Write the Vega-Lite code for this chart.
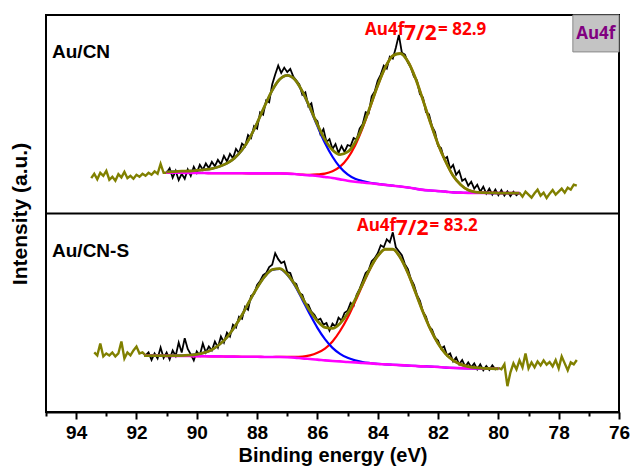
{
"$schema":"https://vega.github.io/schema/vega-lite/v6.json",
"width":573,"height":397,
"autosize":{"type":"none"},
"padding":{"left":46,"top":15,"right":14,"bottom":58},
"config":{"view":{"stroke":"black","strokeWidth":2},"font":"Liberation Sans"},
"datasets":{
"raw":[
{"p":"t","g":"L","e":93.5,"i":1.178},{"p":"t","g":"L","e":93.4,"i":1.2},{"p":"t","g":"L","e":93.3,"i":1.172},{"p":"t","g":"L","e":93.2,"i":1.205},{"p":"t","g":"L","e":93.1,"i":1.19},{"p":"t","g":"L","e":93.0,"i":1.215},{"p":"t","g":"L","e":92.9,"i":1.17},{"p":"t","g":"L","e":92.8,"i":1.185},{"p":"t","g":"L","e":92.7,"i":1.165},{"p":"t","g":"L","e":92.6,"i":1.198},{"p":"t","g":"L","e":92.5,"i":1.182},{"p":"t","g":"L","e":92.4,"i":1.21},{"p":"t","g":"L","e":92.3,"i":1.178},{"p":"t","g":"L","e":92.2,"i":1.19},{"p":"t","g":"L","e":92.1,"i":1.175},{"p":"t","g":"L","e":92.0,"i":1.195},{"p":"t","g":"L","e":91.9,"i":1.185},{"p":"t","g":"L","e":91.8,"i":1.2},{"p":"t","g":"L","e":91.7,"i":1.19},{"p":"t","g":"L","e":91.6,"i":1.205},{"p":"t","g":"L","e":91.5,"i":1.195},{"p":"t","g":"L","e":91.4,"i":1.212},{"p":"t","g":"L","e":91.3,"i":1.2},{"p":"t","g":"L","e":91.2,"i":1.25},{"p":"t","g":"L","e":91.1,"i":1.205},{"p":"t","g":"L","e":91.0,"i":1.205},
{"p":"t","g":"M","e":91.0,"i":1.205},{"p":"t","g":"M","e":90.9,"i":1.228},{"p":"t","g":"M","e":90.8,"i":1.18},{"p":"t","g":"M","e":90.7,"i":1.215},{"p":"t","g":"M","e":90.6,"i":1.168},{"p":"t","g":"M","e":90.5,"i":1.2},{"p":"t","g":"M","e":90.4,"i":1.175},{"p":"t","g":"M","e":90.3,"i":1.222},{"p":"t","g":"M","e":90.2,"i":1.19},{"p":"t","g":"M","e":90.1,"i":1.235},{"p":"t","g":"M","e":90.0,"i":1.205},{"p":"t","g":"M","e":89.9,"i":1.245},{"p":"t","g":"M","e":89.8,"i":1.22},{"p":"t","g":"M","e":89.7,"i":1.252},{"p":"t","g":"M","e":89.6,"i":1.228},{"p":"t","g":"M","e":89.5,"i":1.26},{"p":"t","g":"M","e":89.4,"i":1.238},{"p":"t","g":"M","e":89.3,"i":1.27},{"p":"t","g":"M","e":89.2,"i":1.248},{"p":"t","g":"M","e":89.1,"i":1.29},{"p":"t","g":"M","e":89.0,"i":1.262},{"p":"t","g":"M","e":88.9,"i":1.3},{"p":"t","g":"M","e":88.8,"i":1.278},{"p":"t","g":"M","e":88.7,"i":1.325},{"p":"t","g":"M","e":88.6,"i":1.305},{"p":"t","g":"M","e":88.5,"i":1.352},{"p":"t","g":"M","e":88.4,"i":1.338},{"p":"t","g":"M","e":88.3,"i":1.395},{"p":"t","g":"M","e":88.2,"i":1.38},{"p":"t","g":"M","e":88.1,"i":1.44},{"p":"t","g":"M","e":88.0,"i":1.428},{"p":"t","g":"M","e":87.9,"i":1.51},{"p":"t","g":"M","e":87.8,"i":1.498},{"p":"t","g":"M","e":87.7,"i":1.57},{"p":"t","g":"M","e":87.6,"i":1.56},{"p":"t","g":"M","e":87.5,"i":1.65},{"p":"t","g":"M","e":87.4,"i":1.7},{"p":"t","g":"M","e":87.3,"i":1.745},{"p":"t","g":"M","e":87.2,"i":1.708},{"p":"t","g":"M","e":87.1,"i":1.735},{"p":"t","g":"M","e":87.0,"i":1.712},{"p":"t","g":"M","e":86.9,"i":1.728},{"p":"t","g":"M","e":86.8,"i":1.69},{"p":"t","g":"M","e":86.7,"i":1.67},{"p":"t","g":"M","e":86.6,"i":1.65},{"p":"t","g":"M","e":86.5,"i":1.598},{"p":"t","g":"M","e":86.4,"i":1.61},{"p":"t","g":"M","e":86.3,"i":1.54},{"p":"t","g":"M","e":86.2,"i":1.555},{"p":"t","g":"M","e":86.1,"i":1.48},{"p":"t","g":"M","e":86.0,"i":1.465},{"p":"t","g":"M","e":85.9,"i":1.4},{"p":"t","g":"M","e":85.8,"i":1.425},{"p":"t","g":"M","e":85.7,"i":1.36},{"p":"t","g":"M","e":85.6,"i":1.375},{"p":"t","g":"M","e":85.5,"i":1.325},{"p":"t","g":"M","e":85.4,"i":1.35},{"p":"t","g":"M","e":85.3,"i":1.305},{"p":"t","g":"M","e":85.2,"i":1.34},{"p":"t","g":"M","e":85.1,"i":1.31},{"p":"t","g":"M","e":85.0,"i":1.345},{"p":"t","g":"M","e":84.9,"i":1.34},{"p":"t","g":"M","e":84.8,"i":1.38},{"p":"t","g":"M","e":84.7,"i":1.372},{"p":"t","g":"M","e":84.6,"i":1.428},{"p":"t","g":"M","e":84.5,"i":1.45},{"p":"t","g":"M","e":84.4,"i":1.51},{"p":"t","g":"M","e":84.3,"i":1.505},{"p":"t","g":"M","e":84.2,"i":1.59},{"p":"t","g":"M","e":84.1,"i":1.615},{"p":"t","g":"M","e":84.0,"i":1.67},{"p":"t","g":"M","e":83.9,"i":1.7},{"p":"t","g":"M","e":83.8,"i":1.745},{"p":"t","g":"M","e":83.7,"i":1.73},{"p":"t","g":"M","e":83.6,"i":1.79},{"p":"t","g":"M","e":83.5,"i":1.78},{"p":"t","g":"M","e":83.4,"i":1.835},{"p":"t","g":"M","e":83.3,"i":1.9},{"p":"t","g":"M","e":83.2,"i":1.81},{"p":"t","g":"M","e":83.1,"i":1.8},{"p":"t","g":"M","e":83.0,"i":1.76},{"p":"t","g":"M","e":82.9,"i":1.735},{"p":"t","g":"M","e":82.8,"i":1.69},{"p":"t","g":"M","e":82.7,"i":1.67},{"p":"t","g":"M","e":82.6,"i":1.6},{"p":"t","g":"M","e":82.5,"i":1.585},{"p":"t","g":"M","e":82.4,"i":1.51},{"p":"t","g":"M","e":82.3,"i":1.5},{"p":"t","g":"M","e":82.2,"i":1.44},{"p":"t","g":"M","e":82.1,"i":1.41},{"p":"t","g":"M","e":82.0,"i":1.34},{"p":"t","g":"M","e":81.9,"i":1.33},{"p":"t","g":"M","e":81.8,"i":1.275},{"p":"t","g":"M","e":81.7,"i":1.285},{"p":"t","g":"M","e":81.6,"i":1.225},{"p":"t","g":"M","e":81.5,"i":1.245},{"p":"t","g":"M","e":81.4,"i":1.195},{"p":"t","g":"M","e":81.3,"i":1.215},{"p":"t","g":"M","e":81.2,"i":1.165},{"p":"t","g":"M","e":81.1,"i":1.175},{"p":"t","g":"M","e":81.0,"i":1.14},{"p":"t","g":"M","e":80.9,"i":1.16},{"p":"t","g":"M","e":80.8,"i":1.125},{"p":"t","g":"M","e":80.7,"i":1.145},{"p":"t","g":"M","e":80.6,"i":1.11},{"p":"t","g":"M","e":80.5,"i":1.135},{"p":"t","g":"M","e":80.4,"i":1.1},{"p":"t","g":"M","e":80.3,"i":1.125},{"p":"t","g":"M","e":80.2,"i":1.095},{"p":"t","g":"M","e":80.1,"i":1.12},{"p":"t","g":"M","e":80.0,"i":1.092},{"p":"t","g":"M","e":79.9,"i":1.118},{"p":"t","g":"M","e":79.8,"i":1.09},{"p":"t","g":"M","e":79.7,"i":1.112},{"p":"t","g":"M","e":79.6,"i":1.088},{"p":"t","g":"M","e":79.5,"i":1.11},{"p":"t","g":"M","e":79.4,"i":1.092},{"p":"t","g":"M","e":79.3,"i":1.105},
{"p":"t","g":"R","e":79.3,"i":1.105},{"p":"t","g":"R","e":79.2,"i":1.085},{"p":"t","g":"R","e":79.1,"i":1.11},{"p":"t","g":"R","e":79.0,"i":1.095},{"p":"t","g":"R","e":78.9,"i":1.08},{"p":"t","g":"R","e":78.8,"i":1.102},{"p":"t","g":"R","e":78.7,"i":1.12},{"p":"t","g":"R","e":78.6,"i":1.09},{"p":"t","g":"R","e":78.5,"i":1.105},{"p":"t","g":"R","e":78.4,"i":1.078},{"p":"t","g":"R","e":78.3,"i":1.1},{"p":"t","g":"R","e":78.2,"i":1.118},{"p":"t","g":"R","e":78.1,"i":1.095},{"p":"t","g":"R","e":78.0,"i":1.11},{"p":"t","g":"R","e":77.9,"i":1.125},{"p":"t","g":"R","e":77.8,"i":1.105},{"p":"t","g":"R","e":77.7,"i":1.13},{"p":"t","g":"R","e":77.6,"i":1.12},{"p":"t","g":"R","e":77.5,"i":1.145},{"p":"t","g":"R","e":77.4,"i":1.14},
{"p":"b","g":"L","e":93.4,"i":0.3},{"p":"b","g":"L","e":93.3,"i":0.285},{"p":"b","g":"L","e":93.2,"i":0.345},{"p":"b","g":"L","e":93.1,"i":0.28},{"p":"b","g":"L","e":93.0,"i":0.295},{"p":"b","g":"L","e":92.9,"i":0.285},{"p":"b","g":"L","e":92.8,"i":0.3},{"p":"b","g":"L","e":92.7,"i":0.28},{"p":"b","g":"L","e":92.6,"i":0.295},{"p":"b","g":"L","e":92.5,"i":0.355},{"p":"b","g":"L","e":92.4,"i":0.27},{"p":"b","g":"L","e":92.3,"i":0.3},{"p":"b","g":"L","e":92.2,"i":0.285},{"p":"b","g":"L","e":92.1,"i":0.31},{"p":"b","g":"L","e":92.0,"i":0.33},{"p":"b","g":"L","e":91.9,"i":0.295},{"p":"b","g":"L","e":91.8,"i":0.3},{"p":"b","g":"L","e":91.7,"i":0.285},
{"p":"b","g":"M","e":91.7,"i":0.285},{"p":"b","g":"M","e":91.6,"i":0.3},{"p":"b","g":"M","e":91.5,"i":0.262},{"p":"b","g":"M","e":91.4,"i":0.295},{"p":"b","g":"M","e":91.3,"i":0.27},{"p":"b","g":"M","e":91.2,"i":0.325},{"p":"b","g":"M","e":91.1,"i":0.272},{"p":"b","g":"M","e":91.0,"i":0.3},{"p":"b","g":"M","e":90.9,"i":0.265},{"p":"b","g":"M","e":90.8,"i":0.31},{"p":"b","g":"M","e":90.7,"i":0.282},{"p":"b","g":"M","e":90.6,"i":0.35},{"p":"b","g":"M","e":90.5,"i":0.3},{"p":"b","g":"M","e":90.4,"i":0.372},{"p":"b","g":"M","e":90.3,"i":0.318},{"p":"b","g":"M","e":90.2,"i":0.29},{"p":"b","g":"M","e":90.1,"i":0.26},{"p":"b","g":"M","e":90.0,"i":0.305},{"p":"b","g":"M","e":89.9,"i":0.285},{"p":"b","g":"M","e":89.8,"i":0.345},{"p":"b","g":"M","e":89.7,"i":0.3},{"p":"b","g":"M","e":89.6,"i":0.33},{"p":"b","g":"M","e":89.5,"i":0.31},{"p":"b","g":"M","e":89.4,"i":0.355},{"p":"b","g":"M","e":89.3,"i":0.325},{"p":"b","g":"M","e":89.2,"i":0.38},{"p":"b","g":"M","e":89.1,"i":0.35},{"p":"b","g":"M","e":89.0,"i":0.4},{"p":"b","g":"M","e":88.9,"i":0.38},{"p":"b","g":"M","e":88.8,"i":0.44},{"p":"b","g":"M","e":88.7,"i":0.425},{"p":"b","g":"M","e":88.6,"i":0.48},{"p":"b","g":"M","e":88.5,"i":0.47},{"p":"b","g":"M","e":88.4,"i":0.53},{"p":"b","g":"M","e":88.3,"i":0.515},{"p":"b","g":"M","e":88.2,"i":0.585},{"p":"b","g":"M","e":88.1,"i":0.595},{"p":"b","g":"M","e":88.0,"i":0.64},{"p":"b","g":"M","e":87.9,"i":0.66},{"p":"b","g":"M","e":87.8,"i":0.69},{"p":"b","g":"M","e":87.7,"i":0.7},{"p":"b","g":"M","e":87.6,"i":0.73},{"p":"b","g":"M","e":87.5,"i":0.742},{"p":"b","g":"M","e":87.4,"i":0.8},{"p":"b","g":"M","e":87.3,"i":0.77},{"p":"b","g":"M","e":87.2,"i":0.75},{"p":"b","g":"M","e":87.1,"i":0.758},{"p":"b","g":"M","e":87.0,"i":0.705},{"p":"b","g":"M","e":86.9,"i":0.7},{"p":"b","g":"M","e":86.8,"i":0.655},{"p":"b","g":"M","e":86.7,"i":0.645},{"p":"b","g":"M","e":86.6,"i":0.6},{"p":"b","g":"M","e":86.5,"i":0.59},{"p":"b","g":"M","e":86.4,"i":0.545},{"p":"b","g":"M","e":86.3,"i":0.54},{"p":"b","g":"M","e":86.2,"i":0.505},{"p":"b","g":"M","e":86.1,"i":0.49},{"p":"b","g":"M","e":86.0,"i":0.462},{"p":"b","g":"M","e":85.9,"i":0.47},{"p":"b","g":"M","e":85.8,"i":0.44},{"p":"b","g":"M","e":85.7,"i":0.448},{"p":"b","g":"M","e":85.6,"i":0.41},{"p":"b","g":"M","e":85.5,"i":0.445},{"p":"b","g":"M","e":85.4,"i":0.43},{"p":"b","g":"M","e":85.3,"i":0.475},{"p":"b","g":"M","e":85.2,"i":0.46},{"p":"b","g":"M","e":85.1,"i":0.5},{"p":"b","g":"M","e":85.0,"i":0.51},{"p":"b","g":"M","e":84.9,"i":0.55},{"p":"b","g":"M","e":84.8,"i":0.535},{"p":"b","g":"M","e":84.7,"i":0.59},{"p":"b","g":"M","e":84.6,"i":0.62},{"p":"b","g":"M","e":84.5,"i":0.66},{"p":"b","g":"M","e":84.4,"i":0.7},{"p":"b","g":"M","e":84.3,"i":0.715},{"p":"b","g":"M","e":84.2,"i":0.76},{"p":"b","g":"M","e":84.1,"i":0.775},{"p":"b","g":"M","e":84.0,"i":0.8},{"p":"b","g":"M","e":83.9,"i":0.84},{"p":"b","g":"M","e":83.8,"i":0.83},{"p":"b","g":"M","e":83.7,"i":0.87},{"p":"b","g":"M","e":83.6,"i":0.855},{"p":"b","g":"M","e":83.5,"i":0.905},{"p":"b","g":"M","e":83.4,"i":0.83},{"p":"b","g":"M","e":83.3,"i":0.81},{"p":"b","g":"M","e":83.2,"i":0.79},{"p":"b","g":"M","e":83.1,"i":0.745},{"p":"b","g":"M","e":83.0,"i":0.72},{"p":"b","g":"M","e":82.9,"i":0.67},{"p":"b","g":"M","e":82.8,"i":0.64},{"p":"b","g":"M","e":82.7,"i":0.59},{"p":"b","g":"M","e":82.6,"i":0.56},{"p":"b","g":"M","e":82.5,"i":0.505},{"p":"b","g":"M","e":82.4,"i":0.48},{"p":"b","g":"M","e":82.3,"i":0.43},{"p":"b","g":"M","e":82.2,"i":0.415},{"p":"b","g":"M","e":82.1,"i":0.375},{"p":"b","g":"M","e":82.0,"i":0.36},{"p":"b","g":"M","e":81.9,"i":0.32},{"p":"b","g":"M","e":81.8,"i":0.33},{"p":"b","g":"M","e":81.7,"i":0.285},{"p":"b","g":"M","e":81.6,"i":0.295},{"p":"b","g":"M","e":81.5,"i":0.255},{"p":"b","g":"M","e":81.4,"i":0.275},{"p":"b","g":"M","e":81.3,"i":0.24},{"p":"b","g":"M","e":81.2,"i":0.262},{"p":"b","g":"M","e":81.1,"i":0.228},{"p":"b","g":"M","e":81.0,"i":0.25},{"p":"b","g":"M","e":80.9,"i":0.225},{"p":"b","g":"M","e":80.8,"i":0.245},{"p":"b","g":"M","e":80.7,"i":0.215},{"p":"b","g":"M","e":80.6,"i":0.24},{"p":"b","g":"M","e":80.5,"i":0.21},{"p":"b","g":"M","e":80.4,"i":0.232},{"p":"b","g":"M","e":80.3,"i":0.212},{"p":"b","g":"M","e":80.2,"i":0.235},{"p":"b","g":"M","e":80.1,"i":0.215},{"p":"b","g":"M","e":80.0,"i":0.222},
{"p":"b","g":"R","e":80.0,"i":0.222},{"p":"b","g":"R","e":79.9,"i":0.215},{"p":"b","g":"R","e":79.8,"i":0.24},{"p":"b","g":"R","e":79.7,"i":0.13},{"p":"b","g":"R","e":79.6,"i":0.2},{"p":"b","g":"R","e":79.5,"i":0.245},{"p":"b","g":"R","e":79.4,"i":0.215},{"p":"b","g":"R","e":79.3,"i":0.26},{"p":"b","g":"R","e":79.2,"i":0.225},{"p":"b","g":"R","e":79.1,"i":0.295},{"p":"b","g":"R","e":79.0,"i":0.22},{"p":"b","g":"R","e":78.9,"i":0.25},{"p":"b","g":"R","e":78.8,"i":0.225},{"p":"b","g":"R","e":78.7,"i":0.255},{"p":"b","g":"R","e":78.6,"i":0.235},{"p":"b","g":"R","e":78.5,"i":0.26},{"p":"b","g":"R","e":78.4,"i":0.238},{"p":"b","g":"R","e":78.3,"i":0.252},{"p":"b","g":"R","e":78.2,"i":0.23},{"p":"b","g":"R","e":78.1,"i":0.262},{"p":"b","g":"R","e":78.0,"i":0.22},{"p":"b","g":"R","e":77.9,"i":0.28},{"p":"b","g":"R","e":77.8,"i":0.245},{"p":"b","g":"R","e":77.7,"i":0.21},{"p":"b","g":"R","e":77.6,"i":0.25},{"p":"b","g":"R","e":77.5,"i":0.24},{"p":"b","g":"R","e":77.4,"i":0.262}
],
"fit":[
{"p":"t","e":91.0,"env":1.21,"bl":1.21,"rd":1.205,"bg":1.205},
{"p":"t","e":90.75,"env":1.211,"bl":1.211,"rd":1.205,"bg":1.205},
{"p":"t","e":90.5,"env":1.213,"bl":1.213,"rd":1.205,"bg":1.205},
{"p":"t","e":90.25,"env":1.214,"bl":1.214,"rd":1.204,"bg":1.204},
{"p":"t","e":90.0,"env":1.217,"bl":1.217,"rd":1.204,"bg":1.204},
{"p":"t","e":89.75,"env":1.221,"bl":1.221,"rd":1.204,"bg":1.204},
{"p":"t","e":89.5,"env":1.226,"bl":1.226,"rd":1.203,"bg":1.203},
{"p":"t","e":89.25,"env":1.237,"bl":1.237,"rd":1.203,"bg":1.203},
{"p":"t","e":89.0,"env":1.253,"bl":1.253,"rd":1.203,"bg":1.203},
{"p":"t","e":88.75,"env":1.279,"bl":1.279,"rd":1.203,"bg":1.203},
{"p":"t","e":88.5,"env":1.32,"bl":1.32,"rd":1.203,"bg":1.203},
{"p":"t","e":88.25,"env":1.379,"bl":1.379,"rd":1.202,"bg":1.202},
{"p":"t","e":88.0,"env":1.456,"bl":1.456,"rd":1.202,"bg":1.202},
{"p":"t","e":87.75,"env":1.541,"bl":1.541,"rd":1.202,"bg":1.202},
{"p":"t","e":87.5,"env":1.62,"bl":1.62,"rd":1.202,"bg":1.202},
{"p":"t","e":87.25,"env":1.676,"bl":1.676,"rd":1.202,"bg":1.202},
{"p":"t","e":87.0,"env":1.696,"bl":1.696,"rd":1.201,"bg":1.201},
{"p":"t","e":86.75,"env":1.675,"bl":1.675,"rd":1.199,"bg":1.199},
{"p":"t","e":86.5,"env":1.615,"bl":1.614,"rd":1.196,"bg":1.195},
{"p":"t","e":86.25,"env":1.534,"bl":1.531,"rd":1.195,"bg":1.192},
{"p":"t","e":86.0,"env":1.448,"bl":1.44,"rd":1.197,"bg":1.189},
{"p":"t","e":85.75,"env":1.372,"bl":1.355,"rd":1.201,"bg":1.184},
{"p":"t","e":85.5,"env":1.32,"bl":1.286,"rd":1.213,"bg":1.179},
{"p":"t","e":85.25,"env":1.297,"bl":1.233,"rd":1.236,"bg":1.172},
{"p":"t","e":85.0,"env":1.31,"bl":1.197,"rd":1.278,"bg":1.165},
{"p":"t","e":84.75,"env":1.358,"bl":1.175,"rd":1.343,"bg":1.16},
{"p":"t","e":84.5,"env":1.439,"bl":1.163,"rd":1.432,"bg":1.156},
{"p":"t","e":84.25,"env":1.539,"bl":1.155,"rd":1.536,"bg":1.152},
{"p":"t","e":84.0,"env":1.645,"bl":1.149,"rd":1.644,"bg":1.148},
{"p":"t","e":83.75,"env":1.736,"bl":1.144,"rd":1.736,"bg":1.144},
{"p":"t","e":83.5,"env":1.795,"bl":1.14,"rd":1.795,"bg":1.14},
{"p":"t","e":83.25,"env":1.806,"bl":1.136,"rd":1.806,"bg":1.136},
{"p":"t","e":83.0,"env":1.766,"bl":1.131,"rd":1.766,"bg":1.131},
{"p":"t","e":82.75,"env":1.682,"bl":1.125,"rd":1.682,"bg":1.125},
{"p":"t","e":82.5,"env":1.571,"bl":1.119,"rd":1.571,"bg":1.119},
{"p":"t","e":82.25,"env":1.456,"bl":1.116,"rd":1.456,"bg":1.116},
{"p":"t","e":82.0,"env":1.349,"bl":1.113,"rd":1.349,"bg":1.113},
{"p":"t","e":81.75,"env":1.262,"bl":1.11,"rd":1.262,"bg":1.11},
{"p":"t","e":81.5,"env":1.19,"bl":1.106,"rd":1.19,"bg":1.106},
{"p":"t","e":81.25,"env":1.145,"bl":1.105,"rd":1.145,"bg":1.105},
{"p":"t","e":81.0,"env":1.118,"bl":1.104,"rd":1.118,"bg":1.104},
{"p":"t","e":80.75,"env":1.108,"bl":1.104,"rd":1.108,"bg":1.104},
{"p":"t","e":80.5,"env":1.105,"bl":1.104,"rd":1.105,"bg":1.104},
{"p":"t","e":80.25,"env":1.104,"bl":1.103,"rd":1.104,"bg":1.103},
{"p":"t","e":80.0,"env":1.103,"bl":1.103,"rd":1.103,"bg":1.103},
{"p":"t","e":79.5,"env":1.103,"bl":1.103,"rd":1.103,"bg":1.103},
{"p":"t","e":79.3,"env":1.103,"bl":1.103,"rd":1.103,"bg":1.103},
{"p":"b","e":91.75,"env":0.284,"bl":0.284,"rd":0.284,"bg":0.284},
{"p":"b","e":91.5,"env":0.284,"bl":0.284,"rd":0.284,"bg":0.284},
{"p":"b","e":91.25,"env":0.284,"bl":0.284,"rd":0.284,"bg":0.284},
{"p":"b","e":91.0,"env":0.283,"bl":0.283,"rd":0.283,"bg":0.283},
{"p":"b","e":90.75,"env":0.284,"bl":0.284,"rd":0.283,"bg":0.283},
{"p":"b","e":90.5,"env":0.284,"bl":0.284,"rd":0.282,"bg":0.282},
{"p":"b","e":90.25,"env":0.286,"bl":0.286,"rd":0.282,"bg":0.282},
{"p":"b","e":90.0,"env":0.29,"bl":0.29,"rd":0.281,"bg":0.281},
{"p":"b","e":89.75,"env":0.299,"bl":0.299,"rd":0.281,"bg":0.281},
{"p":"b","e":89.5,"env":0.314,"bl":0.314,"rd":0.28,"bg":0.28},
{"p":"b","e":89.25,"env":0.34,"bl":0.34,"rd":0.28,"bg":0.28},
{"p":"b","e":89.0,"env":0.376,"bl":0.376,"rd":0.279,"bg":0.279},
{"p":"b","e":88.75,"env":0.428,"bl":0.428,"rd":0.279,"bg":0.279},
{"p":"b","e":88.5,"env":0.489,"bl":0.489,"rd":0.278,"bg":0.278},
{"p":"b","e":88.25,"env":0.559,"bl":0.559,"rd":0.278,"bg":0.278},
{"p":"b","e":88.0,"env":0.626,"bl":0.626,"rd":0.278,"bg":0.278},
{"p":"b","e":87.75,"env":0.682,"bl":0.682,"rd":0.277,"bg":0.277},
{"p":"b","e":87.5,"env":0.717,"bl":0.716,"rd":0.277,"bg":0.277},
{"p":"b","e":87.25,"env":0.722,"bl":0.721,"rd":0.278,"bg":0.277},
{"p":"b","e":87.0,"env":0.694,"bl":0.692,"rd":0.278,"bg":0.276},
{"p":"b","e":86.75,"env":0.642,"bl":0.638,"rd":0.278,"bg":0.274},
{"p":"b","e":86.5,"env":0.575,"bl":0.566,"rd":0.279,"bg":0.27},
{"p":"b","e":86.25,"env":0.51,"bl":0.492,"rd":0.285,"bg":0.267},
{"p":"b","e":86.0,"env":0.458,"bl":0.424,"rd":0.298,"bg":0.264},
{"p":"b","e":85.75,"env":0.426,"bl":0.367,"rd":0.319,"bg":0.26},
{"p":"b","e":85.5,"env":0.421,"bl":0.323,"rd":0.355,"bg":0.257},
{"p":"b","e":85.25,"env":0.446,"bl":0.293,"rd":0.408,"bg":0.255},
{"p":"b","e":85.0,"env":0.496,"bl":0.273,"rd":0.475,"bg":0.252},
{"p":"b","e":84.75,"env":0.566,"bl":0.26,"rd":0.556,"bg":0.25},
{"p":"b","e":84.5,"env":0.646,"bl":0.252,"rd":0.641,"bg":0.247},
{"p":"b","e":84.25,"env":0.724,"bl":0.247,"rd":0.722,"bg":0.245},
{"p":"b","e":84.0,"env":0.786,"bl":0.243,"rd":0.785,"bg":0.242},
{"p":"b","e":83.75,"env":0.82,"bl":0.24,"rd":0.82,"bg":0.24},
{"p":"b","e":83.5,"env":0.82,"bl":0.238,"rd":0.82,"bg":0.238},
{"p":"b","e":83.25,"env":0.777,"bl":0.236,"rd":0.777,"bg":0.236},
{"p":"b","e":83.0,"env":0.7,"bl":0.234,"rd":0.7,"bg":0.234},
{"p":"b","e":82.75,"env":0.603,"bl":0.232,"rd":0.603,"bg":0.232},
{"p":"b","e":82.5,"env":0.504,"bl":0.23,"rd":0.504,"bg":0.23},
{"p":"b","e":82.25,"env":0.416,"bl":0.229,"rd":0.416,"bg":0.229},
{"p":"b","e":82.0,"env":0.345,"bl":0.227,"rd":0.345,"bg":0.227},
{"p":"b","e":81.75,"env":0.293,"bl":0.224,"rd":0.293,"bg":0.224},
{"p":"b","e":81.5,"env":0.26,"bl":0.222,"rd":0.26,"bg":0.222},
{"p":"b","e":81.25,"env":0.24,"bl":0.221,"rd":0.24,"bg":0.221},
{"p":"b","e":81.0,"env":0.229,"bl":0.22,"rd":0.229,"bg":0.22},
{"p":"b","e":80.75,"env":0.223,"bl":0.219,"rd":0.223,"bg":0.219},
{"p":"b","e":80.5,"env":0.22,"bl":0.219,"rd":0.22,"bg":0.219},
{"p":"b","e":80.25,"env":0.219,"bl":0.218,"rd":0.219,"bg":0.218},
{"p":"b","e":80.0,"env":0.218,"bl":0.218,"rd":0.218,"bg":0.218}
],
"notes":[
{"k":"panel","t":"Au/CN","e":94.8,"i":1.812},
{"k":"panel","t":"Au/CN-S","e":94.8,"i":0.809},
{"k":"small","t":"Au4f","e":84.42,"i":1.899},
{"k":"big","t":"7/2","e":83.13,"i":1.874},
{"k":"small","t":"= 82.9","e":82.0,"i":1.899},
{"k":"small","t":"Au4f","e":84.69,"i":0.912},
{"k":"big","t":"7/2","e":83.4,"i":0.892},
{"k":"small","t":"= 83.2","e":82.28,"i":0.912},
{"k":"tag","t":"Au4f","e":76.77,"i":1.904}
],
"box":[{"e":77.53,"e2":76.0,"i":2.0,"i2":1.814}],
"divider":[{"e":95,"e2":76,"i":1}]
},
"encoding":{
"x":{"field":"e","type":"quantitative","scale":{"domain":[95,76],"nice":false,"zero":false},
"axis":{"title":"Binding energy (eV)","values":[95,94,93,92,91,90,89,88,87,86,85,84,83,82,81,80,79,78,77,76],
"labelExpr":"datum.value % 2 === 0 ? datum.label : ''",
"tickSize":{"condition":{"test":"datum.value % 2 === 0","value":7},"value":4},
"tickColor":"black","tickWidth":2,"domainColor":"black","domainWidth":2,"grid":false,
"labelFont":"Liberation Sans","labelFontWeight":"bold","labelFontSize":19,"labelColor":"black","labelPadding":4,"labelFlush":false,"labelOverlap":false,
"titleFont":"Liberation Sans","titleFontWeight":"bold","titleFontSize":20,"titleColor":"black","titlePadding":3}},
"y":{"field":"i","type":"quantitative","scale":{"domain":[0,2],"nice":false,"zero":false},
"axis":{"title":"Intensity (a.u.)","labels":false,"ticks":false,"domain":false,"grid":false,
"titleFont":"Liberation Sans","titleFontWeight":"bold","titleFontSize":21,"titleColor":"black","titlePadding":16}}
},
"layer":[
{"data":{"name":"divider"},"mark":{"type":"rule","color":"black","strokeWidth":2},"encoding":{"x2":{"field":"e2"}}},
{"data":{"name":"raw"},"transform":[{"filter":"datum.g === 'M'"}],"mark":{"type":"line","color":"black","strokeWidth":1.8},"encoding":{"detail":{"field":"p"}}},
{"data":{"name":"raw"},"transform":[{"filter":"datum.g !== 'M'"}],"mark":{"type":"line","color":"#808000","strokeWidth":2.4},"encoding":{"detail":[{"field":"p"},{"field":"g"}]}},
{"data":{"name":"fit"},"transform":[{"fold":["env","bl","rd","bg"],"as":["s","i"]},{"filter":"datum.s === 'rd'"}],"mark":{"type":"line","color":"#ff0000","strokeWidth":2.2,"interpolate":"monotone"},"encoding":{"detail":{"field":"p"}}},
{"data":{"name":"fit"},"transform":[{"fold":["env","bl","rd","bg"],"as":["s","i"]},{"filter":"datum.s === 'bl'"}],"mark":{"type":"line","color":"#0000ff","strokeWidth":2.2,"interpolate":"monotone"},"encoding":{"detail":{"field":"p"}}},
{"data":{"name":"fit"},"transform":[{"fold":["env","bl","rd","bg"],"as":["s","i"]},{"filter":"datum.s === 'bg'"}],"mark":{"type":"line","color":"#ff00ff","strokeWidth":2.6,"interpolate":"monotone"},"encoding":{"detail":{"field":"p"}}},
{"data":{"name":"fit"},"transform":[{"fold":["env","bl","rd","bg"],"as":["s","i"]},{"filter":"datum.s === 'env'"}],"mark":{"type":"line","color":"#808000","strokeWidth":2.8,"interpolate":"monotone"},"encoding":{"detail":{"field":"p"}}},
{"data":{"name":"box"},"mark":{"type":"rect","fill":"#c4c4c4","stroke":"#8a8a8a","strokeWidth":1},"encoding":{"x2":{"field":"e2"},"y2":{"field":"i2"}}},
{"data":{"name":"notes"},"transform":[{"filter":"datum.k === 'panel'"}],"mark":{"type":"text","align":"left","baseline":"middle","font":"Liberation Sans","fontWeight":"bold","fontSize":19,"color":"black"},"encoding":{"text":{"field":"t"}}},
{"data":{"name":"notes"},"transform":[{"filter":"datum.k === 'small'"}],"mark":{"type":"text","align":"left","baseline":"alphabetic","font":"Open Sans","fontWeight":"bold","fontSize":17,"color":"#ff0000"},"encoding":{"text":{"field":"t"}}},
{"data":{"name":"notes"},"transform":[{"filter":"datum.k === 'big'"}],"mark":{"type":"text","align":"left","baseline":"alphabetic","font":"Open Sans","fontWeight":"bold","fontSize":21,"color":"#ff0000"},"encoding":{"text":{"field":"t"}}},
{"data":{"name":"notes"},"transform":[{"filter":"datum.k === 'tag'"}],"mark":{"type":"text","align":"center","baseline":"middle","font":"Open Sans","fontWeight":"bold","fontSize":17,"color":"#800080"},"encoding":{"text":{"field":"t"}}}
]
}
